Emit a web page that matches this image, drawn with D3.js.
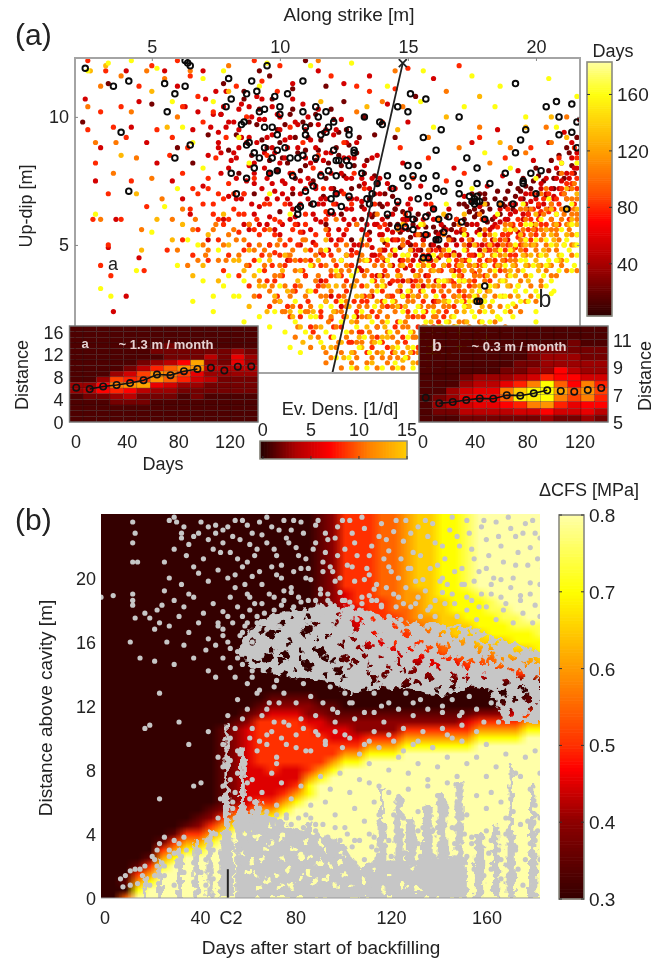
<!DOCTYPE html>
<html>
<head>
<meta charset="utf-8">
<title>Backfilling seismicity</title>
<script src="https://d3js.org/d3.v7.min.js"></script>
<style>
body { margin: 0; background: #fff; }
svg { display: block; font-family: 'Liberation Sans', Arial, sans-serif; filter: blur(0.45px); }
text { fill: #222; }
</style>
</head>
<body>
<script>
// (a) events, flat x,y pairs in tenths of a metre, one list per age class
var day25 = [88,98,92,103,95,88,99,95,101,84,104,101,106,92,108,79,110,87,112,97,114,83,116,91,118,76,120,103,122,88,124,81,126,95,128,72,130,86,133,78,135,68,138,74,140,65,142,61,144,69,146,58,148,63,150,56,153,60,155,54,158,62,160,57,163,55,165,61,168,58,170,66,172,60,175,67,177,62,180,70,182,64,185,71,187,66,190,74,192,69,195,76,198,72,200,80,203,75,206,83,209,78,212,88,214,81,216,92,92,118,110,122,78,113,86,110,96,116,105,111,118,112,125,106,133,100,137,93,50,105,60,88,66,82,72,93,80,87,84,78,90,70,100,63,105,70,112,66,118,58,124,62,128,52,135,55,141,51,147,49,155,48,132,60,137,62,145,64,151,53,161,52,167,56,174,63,181,59,188,68,194,71,201,70,207,76,23,98,33,113,145,92,153,108,
77,101,83,93,86,107,89,85,91,97,93,91,96,83,97,107,99,79,100,90,102,97,103,82,105,103,106,76,107,86,109,98,110,81,111,92,113,75,114,101,115,87,117,94,117,69,119,82,121,99,121,72,123,85,123,94,125,77,127,89,127,68,129,81,131,73,131,92,132,65,134,83,136,61,137,77,139,66,141,70,143,58,145,64,147,55,149,60,151,50,152,58,154,62,156,52,157,57,159,50,161,55,162,49,164,57,166,53,168,52,169,60,171,55,173,58,174,50,176,61,178,56,179,63,181,66,183,60,184,68,186,62,188,65,189,71,191,64,193,72,195,68,196,73,197,64,199,75,201,77,204,69,205,79,207,72,209,85,211,76,213,86,215,78,173,65,172,66,176,64,178,70,175,70,179,66,174,63,180,68];
var day55 = [70,118,75,110,68,102,73,96,78,104,82,98,85,105,88,92,91,108,94,99,97,104,100,95,103,88,106,98,109,105,112,91,115,97,118,86,121,93,124,99,127,84,130,90,133,81,136,76,139,70,142,66,145,72,148,60,151,64,154,57,157,66,160,60,163,58,166,64,169,55,172,69,175,58,178,65,181,73,184,61,187,77,190,66,193,79,196,70,199,83,202,72,205,90,208,80,211,94,214,84,217,99,72,85,76,90,80,80,84,88,87,75,90,82,93,72,96,78,99,68,102,74,105,64,108,70,111,76,114,60,117,66,120,72,123,56,126,64,129,60,132,67,135,52,138,58,141,48,144,55,147,44,150,51,153,46,156,42,159,48,162,45,165,50,168,47,171,52,174,50,177,55,180,54,183,57,186,59,189,60,192,63,195,62,198,67,201,65,204,70,207,69,210,75,213,72,216,80,85,68,90,62,95,58,100,54,104,60,108,50,112,56,116,47,120,52,124,44,128,48,132,40,136,46,140,38,144,42,148,36,152,40,156,34,60,112,55,118,45,106,40,118,30,88,28,75,42,96,48,90,52,82,58,75,62,68,66,95,36,60,33,49,45,45,35,24,40,30,24,107,63,104,105,113,115,118,125,113,135,116,142,105,160,115,175,90,185,95,150,98,138,85,148,82,155,73,168,80,160,28,120,30,110,38,103,44,96,50,88,56,78,60,72,52,143,72,151,68,114,73,126,76,97,88,83,84,77,101,65,62,70,73,128,42,116,36,124,26,136,30,130,22,138,18,
71,107,74,101,76,94,77,86,79,110,80,98,81,83,83,76,84,103,85,92,86,70,88,81,89,100,90,74,91,90,92,65,93,107,94,86,95,76,96,61,97,93,98,71,99,101,100,82,101,58,102,91,103,68,104,78,105,107,106,61,107,88,108,75,109,55,110,95,111,68,112,82,113,51,114,72,115,103,116,59,117,83,118,68,119,48,120,78,121,62,122,95,123,52,124,71,125,84,126,46,127,58,128,76,129,50,130,68,131,41,132,56,133,74,134,44,135,62,136,49,137,70,138,38,139,54,140,60,141,44,142,56,143,35,144,62,145,46,146,52,147,32,148,56,149,41,150,60,151,36,152,48,153,54,154,30,155,44,156,52,157,38,158,54,159,44,160,50,161,36,162,54,163,48,164,42,165,56,166,46,167,52,168,40,169,50,170,46,171,56,172,44,173,54,174,42,175,52,176,46,177,58,178,48,179,50,180,60,181,48,182,56,183,52,184,58,185,50,186,64,187,54,188,60,189,52,190,62,191,57,192,66,193,55,194,68,195,60,196,66,197,62,198,70,199,58,200,68,201,62,202,74,203,66,204,76,205,64,206,72,207,68,208,76,209,72,210,82,211,70,212,78,213,76,214,90,215,80,216,86,
76,88,79,96,82,86,84,95,87,90,88,104,90,78,92,99,94,80,95,92,97,74,98,86,100,100,101,75,102,84,104,92,105,72,107,97,108,66,110,84,111,100,112,74,114,88,115,66,116,78,118,95,119,62,120,86,122,70,124,78,125,60,126,90,128,68,129,84,130,58,132,76,133,64,135,72,136,84,137,58,139,76,140,54,142,74,144,52,146,66,148,50,150,66,152,44,154,48,156,60,158,46,160,64,77,78,80,69,83,68,86,58,89,66,92,58,95,68,98,56,101,70,104,66,107,58,110,72,113,62,116,68,119,56,122,66,125,54,128,64,131,50,134,58,137,46,140,48];
var day80 = [30,102,25,95,35,96,40,92,28,82,33,70,38,60,42,75,48,65,52,95,57,85,62,78,66,72,70,66,74,62,78,58,82,64,86,70,90,76,94,66,98,60,102,66,106,58,110,62,114,54,118,60,122,50,126,56,130,47,134,54,138,44,142,50,146,40,150,46,154,38,158,44,162,36,166,42,170,40,174,46,178,44,182,48,186,52,190,55,194,58,198,60,202,63,206,66,210,70,214,74,216,84,72,76,76,70,80,74,84,62,88,58,92,54,96,50,100,46,104,52,108,44,112,48,116,42,120,46,124,38,128,42,132,34,136,38,140,32,144,36,148,30,152,34,156,28,160,32,164,30,168,35,172,36,176,39,180,42,184,44,188,48,192,49,196,52,200,56,204,58,208,62,212,68,216,76,86,48,90,44,94,40,98,36,102,42,106,34,110,38,114,32,118,36,122,28,126,32,130,24,134,28,138,22,142,26,146,20,150,24,154,18,68,108,74,102,79,92,83,112,87,100,93,114,99,110,104,96,109,90,113,80,117,72,121,66,125,70,129,78,133,72,137,66,141,58,145,52,149,58,153,50,157,54,161,48,165,46,169,44,173,48,177,50,181,50,185,57,189,54,193,53,197,56,201,60,205,63,209,66,213,64,135,110,140,98,147,88,152,76,158,84,165,75,172,78,178,92,188,84,198,88,45,112,50,120,38,104,60,122,32,118,65,116,90,122,100,120,120,116,130,112,150,119,145,111,170,120,25,122,27,60,30,42,34,38,33,50,47,40,56,48,62,52,66,46,72,44,76,52,80,46,84,38,88,34,92,30,96,26,100,28,104,22,108,26,112,18,116,24,120,14,124,18,128,12,132,16,136,10,140,12,144,8,148,14,152,8,156,12,160,18,164,22,168,26,172,30,95,85,105,78,115,85,125,90,75,84,128,66,118,63,108,55,98,47,88,42,78,40,68,56,139,57,149,62,159,66,169,60,179,60,189,64,199,70,209,84,215,88,120,21,132,28,144,30,156,22,168,18,178,28,
91,60,93,46,94,56,95,36,96,66,97,42,98,54,99,30,100,59,101,38,102,50,103,26,104,44,105,56,106,32,107,50,108,22,109,40,110,58,111,28,112,44,113,16,114,50,115,34,116,22,117,46,118,28,119,54,120,38,121,18,122,42,123,30,124,52,125,22,126,36,127,12,128,46,129,28,130,40,131,16,132,50,133,30,134,8,135,44,136,24,137,36,138,14,139,46,140,28,141,40,142,10,143,30,144,48,145,18,146,36,147,26,148,44,149,12,150,30,151,42,152,22,153,36,154,10,155,32,156,46,157,24,158,38,159,14,160,42,161,28,162,20,163,40,164,34,165,24,166,44,167,36,168,30,169,42,170,32,171,38,172,28,173,44,174,34,175,46,176,36,177,42,178,32,179,46,180,38,181,44,182,36,183,50,184,42,185,48,186,40,187,54,188,44,189,50,190,46,191,58,192,46,193,60,194,50,195,54,196,48,197,62,198,52,199,64,200,54,201,66,202,58,203,68,204,56,205,70,206,60,207,64,208,68,209,58,210,72,211,64,212,74,213,60,214,78,215,66,216,72,72,72,74,66,76,60,78,68,80,60,82,70,84,55,86,62,88,50,90,56,65,64,68,70,64,88,58,92,70,98,62,104];
var day105 = [48,118,42,102,25,104,36,90,44,84,50,76,54,68,58,60,62,64,66,56,70,50,74,56,78,50,82,56,86,52,90,48,94,42,98,38,102,34,106,40,110,30,114,36,118,30,122,24,126,28,130,20,134,26,138,18,142,22,146,16,150,18,154,22,158,26,162,28,166,32,170,34,174,36,178,38,182,40,186,42,190,44,194,48,198,50,202,52,206,56,210,60,214,62,216,68,92,36,96,32,100,38,104,30,108,34,112,26,116,30,120,22,124,24,128,16,132,22,136,14,140,20,144,14,148,18,152,14,156,18,160,22,164,26,168,30,172,32,176,34,180,36,184,38,188,40,192,42,196,46,200,48,204,50,208,54,212,58,216,62,110,52,114,46,118,42,122,38,126,42,130,36,134,40,138,34,142,38,146,32,150,36,154,30,158,36,162,40,166,36,170,38,174,42,178,40,182,44,186,46,190,50,194,52,198,54,202,56,206,60,210,64,214,68,104,46,100,52,96,56,92,50,88,58,84,46,80,54,76,44,72,48,68,44,64,42,60,48,135,30,140,26,145,24,150,28,155,26,160,26,165,28,125,34,120,40,115,38,110,44,105,48,123,48,131,44,139,48,147,42,155,40,163,46,171,44,179,46,187,50,195,56,203,62,211,70,215,74,140,45,148,52,156,50,164,54,172,56,180,56,188,58,196,64,204,72,35,78,28,90,30,112,38,116,60,100,46,56,30,60,55,115,65,118,80,120,115,122,140,106,130,102,145,118,165,110,178,96,190,88,148,104,158,92,170,88,182,82,196,86,206,90,212,100,204,96,106,14,112,10,118,8,124,8,130,6,136,6,142,4,148,8,154,8,160,12,166,14,172,20,178,24,184,30,190,34,196,38,202,42,208,48,214,54,
96,46,98,28,99,50,101,24,103,46,105,26,107,18,109,52,111,24,113,42,115,14,117,34,119,20,121,44,123,12,125,30,127,40,129,8,131,26,133,38,135,16,137,42,139,24,141,34,143,6,145,28,147,38,149,20,151,32,153,14,155,36,157,18,159,40,161,22,163,32,165,16,167,40,169,24,171,36,173,26,175,40,177,30,179,42,181,32,183,46,185,34,187,44,189,38,191,48,193,40,195,50,197,42,199,56,201,46,203,54,205,48,207,58,209,52,211,62,213,56,215,64,120,32,124,40,128,34,132,46,136,32,140,42,144,26,148,50,152,28,156,42,160,34,164,48,168,34,172,50,176,38,180,52,184,48,188,52,192,44,196,60,200,50,204,64,208,56,212,68,216,60,118,56,122,60,126,50,130,58,134,50,138,62,142,44,146,56,150,44,154,54,158,48,162,60,166,52,170,58,174,52,178,62,182,54,186,66,190,58,194,64,198,64,202,70,206,66,210,78,214,72,102,24,106,44,110,24,114,18,116,48,122,18,126,26,130,12,134,22,138,8,142,30,146,6,150,22,154,38,158,10,162,24,166,26,170,20,174,30,178,20,182,26,186,26,190,30,194,36,198,34,202,36,206,42,210,44,214,50,216,54,
118,4,120,6,122,10,124,2,126,14,128,4,130,2,132,12,134,4,136,12,138,2,140,6,142,16,144,2,146,12,148,2,150,6,152,16,154,4,156,14,158,2,160,16,162,8,164,2,166,8,168,12,170,14,172,10,174,18,176,12,178,14,180,18,182,12,184,20,186,16,188,18,190,24,192,26,194,24,196,28,198,30,200,28,202,34,204,40,206,38,208,38,210,42,212,40,214,46,216,40,105,32,100,42,97,34,94,48,90,30,87,42,83,52,79,44,75,58,71,46,67,60];
var day130 = [100,28,104,24,108,18,112,14,116,18,120,10,124,12,128,8,132,10,136,4,140,8,144,10,148,5,152,4,156,6,160,8,164,12,168,18,172,24,176,28,180,30,184,34,188,36,192,38,196,42,200,44,204,46,208,50,212,54,216,58,78,62,82,44,86,40,90,38,94,34,98,30,102,46,70,42,66,38,62,58,58,52,52,60,46,48,132,30,140,36,148,42,156,44,164,42,172,40,180,48,188,46,196,50,204,56,212,64,216,70,118,28,126,22,134,18,142,14,150,10,158,14,166,20,174,26,182,32,190,40,198,46,206,54,214,60,56,96,50,110,38,85,44,70,32,120,26,118,80,110,116,106,134,104,146,95,165,100,178,108,186,90,196,96,206,100,212,92,122,34,130,30,138,28,146,26,154,34,162,34,170,30,178,34,186,36,193,34,201,40,209,44,108,40,96,44,88,48,143,46,151,48,160,40,168,46,176,50,184,52,192,56,200,58,208,58,
101,40,103,32,105,22,107,36,109,12,111,32,113,24,115,44,117,10,119,34,121,24,123,38,125,6,127,26,129,34,131,14,133,44,135,22,137,12,139,38,141,18,143,42,145,8,147,34,149,26,151,8,153,38,155,14,157,30,159,20,161,44,163,18,165,36,167,22,169,28,171,42,173,20,175,32,177,16,179,26,181,38,183,24,185,42,187,30,189,34,191,42,193,30,195,46,197,36,199,50,201,42,203,48,205,42,207,52,209,46,211,50,213,58,215,50,216,64,128,20,134,34,140,14,146,38,152,30,158,34,164,28,170,42,176,42,182,50,188,56,194,54,200,62,206,64,212,72,95,24,92,34,88,26,84,44,80,50,76,36,72,54,110,48,118,52,126,46,132,52,140,52,148,58,156,58,164,62,172,62,180,66];
var day160 = [25,118,33,121,42,122,52,119,58,106,62,96,66,90,70,80,60,72,55,65,50,55,44,40,34,30,28,62,30,33,60,42,74,30,84,30,92,22,96,18,102,16,106,20,112,22,116,12,122,6,128,2,134,2,140,2,146,2,152,2,158,4,164,6,170,10,176,14,182,20,188,24,194,28,200,32,206,36,212,44,216,50,150,14,156,16,162,18,168,22,174,28,180,28,186,30,192,32,198,38,204,42,210,46,216,54,196,44,190,38,184,40,178,32,172,36,166,28,160,24,154,26,148,24,142,20,136,20,130,18,124,20,118,16,112,32,106,28,100,34,92,44,86,36,80,38,76,48,68,50,64,52,204,52,198,58,192,50,186,48,180,42,174,44,168,38,162,36,156,32,150,32,144,28,138,32,132,24,126,16,120,26,114,22,108,24,210,56,214,66,208,62,202,60,196,58,190,48,184,46,178,54,172,48,166,44,160,46,154,42,148,46,142,44,136,36,130,40,124,44,118,48,112,42,104,62,96,70,88,82,84,92,92,112,78,118,74,106,70,115,95,121,112,120,128,121,142,112,155,106,160,96,172,104,184,104,196,100,208,96,216,108,205,115,186,112,175,116,156,118,180,86,190,80,200,76,210,82,216,82,205,68,195,66,185,62,175,72,165,66,155,58,145,48,186,21,206,31,200,24,170,16,176,22,214,40,146,10,152,10,158,8,164,16,200,20,191,27,
121,14,124,28,127,6,129,22,131,10,133,14,135,8,137,26,139,12,141,28,143,16,145,4,147,20,149,6,151,16,153,24,155,6,157,20,159,10,161,30,163,10,165,20,167,12,169,18,171,28,173,14,175,24,177,10,179,20,181,14,183,28,185,22,187,36,189,26,191,22,193,34,195,40,197,28,199,42,201,30,203,38,205,44,207,32,209,40,211,50,213,48,215,42,216,46,170,36,176,30,182,34,188,42,194,44,200,52,206,50,212,52,166,48,172,54,178,46,184,54,190,56,196,52,202,46,208,44,214,58,140,34,148,30,156,24,164,36,172,26,180,24,188,30,196,32,204,34,110,16,116,26,122,40,128,38,134,44,142,52,150,46,158,42,86,20,82,30,78,34,74,24,70,36,66,28,92,40,98,24,104,10,108,8];
// thicker events, same units
var strongEvents = [24,119,63,122,64,121,65,120,95,120,80,115,109,114,41,114,35,112,55,113,63,112,59,109,87,109,91,110,89,114,98,108,103,109,81,107,79,104,56,102,92,102,94,103,100,104,100,101,109,102,114,104,118,102,115,100,86,98,85,97,94,96,97,96,110,96,121,98,119,96,38,94,99,93,116,93,118,94,110,93,88,90,87,89,65,89,94,88,99,87,102,88,90,86,92,84,97,84,104,84,107,84,109,85,114,84,122,83,59,84,90,80,81,78,87,76,96,78,99,79,105,77,116,77,119,79,122,77,41,71,110,71,113,73,122,70,83,70,120,68,113,66,107,64,108,65,107,62,120,63,151,109,157,107,146,104,150,102,133,100,139,98,140,97,170,100,163,95,156,92,127,95,127,93,129,87,129,86,121,87,161,87,173,84,150,81,154,81,123,83,126,83,127,81,132,78,177,80,142,77,148,76,152,77,156,76,161,77,188,78,192,113,204,104,208,106,214,105,209,100,216,98,196,95,209,93,214,94,194,91,192,86,216,88,198,78,202,79,195,75,195,74,200,70,212,64,191,66,186,66,170,74,177,74,182,74,161,72,164,71,170,70,158,69,154,68,150,73,144,72,138,74,176,68,177,69,175,67,178,67,176,66,174,69,177,67,180,60,166,61,171,59,164,55,162,60,157,61,150,62,152,60,160,64,146,67,136,70,134,68,135,66,127,69,124,65,142,62,146,57,162,52,157,54,152,56,149,57,156,45,158,45,177,28,178,28,180,34,161,52];
var eventBins = [25,55,80,105,130,160];
var eventLists = [day25,day55,day80,day105,day130,day160];
var faultX = [14.8,12.05];
var faultY = [12.1,0];

// insets, rows from top to bottom, one character per 10-day cell, base 36 events/day
var insetARows = ["11111111111111","11111111111111","11111111111111","11111112111111","11111122222232","11111112224263","111112347d3263","1111248acc4444","111359cb963333","113989ca854222","337bcd65332222","34787433222222","12234222121111","11122211111111","11111111111111","11111111111111","11111111111111"];
var insetBRows = ["11111111111111","11111111111111","11111111111211","11111111222222","11111111233322","11111112233333","11111122337433","11123334587755","11134468bia7b8","113566bfiidac9","123677ahhib9b8","13456678bc8677","12244445575564","11122222232232"];
var insetDays = [0,10,20,30,40,50,60,70,80,90,100,110,120,130];
var frontA = [6.07,5.84,6.3,6.55,6.9,7.4,8.4,8.3,9.0,9.4,9.6,9.1,9.8,9.85];
var frontB = [6.77,6.36,6.46,6.6,6.72,6.7,6.95,6.92,7.09,7.31,7.26,7.21,7.33,7.48];
var insetTicksA = [0,4,8,12,16];
var insetTicksB = [5,7,9,11];
var insetDayTicks = [0,40,80,120];

// (b) stress change, rows from 24 m down to 0 m every 0.5 m, columns every 5 days, hex steps of 0.05 MPa above 0.3
var cfsRows = [
"00000 00000 00000 00012 44455 67788 9aaaa aa","00000 00000 00000 00012 44455 67788 9aaaa aa","00000 00000 00000 00012 44455 67788 9aaaa aa","00000 00000 00000 00012 44455 67788 9aaaa aa",
"00000 00000 00000 00012 44455 67788 9aaaa aa","00000 00000 00000 00012 44455 67788 9aaaa aa","00000 00000 00000 00012 44455 67788 9aaaa aa","00000 00000 00000 00012 44455 67788 9aaaa aa",
"00000 00000 00000 00012 44455 67788 9aaaa aa","00000 00000 00000 00012 44455 67788 9aaaa aa",
"00000 00000 00000 00012 34455 66788 89aaa aa","00000 00000 00000 00012 34445 66778 889aa aa","00000 00000 00000 00011 33445 56778 8899a aa","00000 00000 00000 00011 33444 56677 88899 aa",
"00000 00000 00000 00011 23344 55677 78889 99","00000 00000 00000 00001 22344 45567 77888 89","00000 00000 00000 00001 12334 44556 67778 88","00000 00000 00000 00001 12233 34455 66677 78",
"00000 00000 00000 00000 11222 33344 55566 67","00000 00000 00000 00000 11122 22333 44555 66","00000 00000 00000 00000 01111 12222 33334 45","00000 00000 00000 00000 00011 11111 11111 11",
"00000 00000 00000 00000 00000 00000 00000 01","00000 00000 00001 11100 00000 00000 00000 11","00000 00000 00012 22211 00000 00000 00011 12","00000 00000 00123 33221 11111 11111 12223 44",
"00000 00000 01244 44332 22222 22222 34444 66","00000 00000 12344 44433 32222 44444 46666 88","00000 00000 12344 44443 33444 66666 68888 aa","00000 00000 12344 44444 44666 88888 8aaaa aa",
"00000 00000 12344 44444 66888 aaaaa aaaaa aa","00000 00000 12344 44446 88aaa aaaaa aaaaa aa","00000 00000 12334 33468 aaaaa aaaaa aaaaa aa","00000 00000 12333 3368a aaaaa aaaaa aaaaa aa",
"00000 00000 12333 348aa aaaaa aaaaa aaaaa aa","00000 00000 12333 468aa aaaaa aaaaa aaaaa aa","00000 00000 12344 68aaa aaaaa aaaaa aaaaa aa","00000 00001 24466 8aaaa aaaaa aaaaa aaaaa aa",
"00000 00012 46688 aaaaa aaaaa aaaaa aaaaa aa","00000 00124 688aa aaaaa aaaaa aaaaa aaaaa aa","00000 01446 8aaaa aaaaa aaaaa aaaaa aaaaa aa","00000 14668 aaaaa aaaaa aaaaa aaaaa aaaaa aa",
"00000 4688a aaaaa aaaaa aaaaa aaaaa aaaaa aa","00001 68aaa aaaaa aaaaa aaaaa aaaaa aaaaa aa","00014 8aaaa aaaaa aaaaa aaaaa aaaaa aaaaa aa","00046 aaaaa aaaaa aaaaa aaaaa aaaaa aaaaa aa",
"00168 aaaaa aaaaa aaaaa aaaaa aaaaa aaaaa aa","0008a aaaaa aaaaa aaaaa aaaaa aaaaa aaaaa aa","005aa aaaaa aaaaa aaaaa aaaaa aaaaa aaaaa aa"];

// (b) single events, flat day, tenths of a metre
var cavityEvents = [
0,188,5,189,13,235,14,228,13,222,13,210,15,210,13,190,13,186,13,183,14,175,12,160,18,178,20,175,22,168,24,172,23,180,25,183,16,150,22,148,28,236,31,235,34,232,38,226,33,225,40,228,44,232,47,233,50,230,55,236,60,233,62,228,65,235,70,232,75,236,78,230,82,235,88,233,92,228,97,232,102,236,108,231,115,234,120,229,125,236,130,232,136,234,143,230,150,236,156,232,162,235,168,231,174,234,178,228,
30,218,35,214,26,210,38,207,42,212,46,218,50,222,53,216,57,224,60,210,64,218,68,222,72,214,76,225,80,219,84,212,88,222,92,216,96,225,100,218,104,222,110,214,114,226,118,217,124,223,128,216,134,226,140,220,146,226,152,218,158,224,164,220,170,226,176,219,180,225,
28,200,33,196,26,192,36,190,40,203,44,198,48,205,52,200,55,194,58,207,62,201,66,196,70,207,74,200,78,194,82,206,86,199,90,193,94,207,98,200,103,207,108,199,112,193,118,207,122,200,127,206,132,199,138,208,142,196,148,206,153,198,158,206,164,199,170,208,176,197,181,206,
30,186,34,182,38,188,42,178,46,184,50,179,53,188,56,182,60,190,63,184,67,178,71,188,74,183,78,191,82,185,86,180,90,190,94,184,98,191,102,185,106,180,110,189,115,183,120,190,124,184,130,188,135,182,140,191,145,184,150,188,155,182,160,190,166,184,172,189,178,183,
28,170,32,176,36,166,40,172,44,162,48,170,52,176,27,160,34,158,38,150,30,146,43,155,47,158,50,164,53,156,56,150,58,166,60,172,62,160,64,176,66,152,68,168,
44,142,47,138,50,150,53,144,55,138,58,146,60,134,62,142,24,128,56,124,58,112,60,118,62,106,64,128,65,98,68,118,70,104,71,132,72,88,73,122,
32,110,36,96,44,104,48,88,18,106,41,72,20,108,24,62,38,70,52,84,
24,34,26,38,22,24,28,30,30,36,28,26,34,38,35,30,32,34,26,20,18,20,16,18,14,18,12,17,10,14,8,12,9,7,12,8,15,9,17,14,21,26,23,30,
62,74,66,66,70,78,74,72,78,62,82,70,86,58,90,76,94,68,98,78,102,66,106,74,110,84,114,70,118,80,122,88,126,78,130,84,134,74,138,82,142,88,146,76,150,84,154,88,158,76,162,82,166,90,170,78,174,88,178,92,
64,92,68,96,72,84,76,96,80,102,84,92,88,104,92,98,96,110,100,102,104,112,108,96,112,104,116,110,120,98,124,106,128,96,132,104,136,94,140,106,144,100,148,108,
52,114,55,106,56,92,61,100,75,110,82,112,88,114,95,118,102,122,112,116,118,122,128,122,140,120,148,116,
110,72,112,60,114,52,118,66,122,62,126,68,130,54,134,70,138,64,142,72,146,60,150,52,154,64,158,56,160,66,164,60,172,76,176,68,180,78,108,48,104,56,100,44,96,52,92,60,88,46,84,52,80,42,76,50,72,58,
100,28,104,36,108,24,112,38,130,34,132,44,152,38,156,30,158,42,160,36,164,24,166,40,170,32,172,46,174,24,178,36,180,50,
30,238,33,228,36,221,41,235,44,224,47,228,49,216,52,232,54,226,56,212,58,236,61,221,63,214,66,227,68,238,71,218,73,230,74,208,77,222,79,236,81,214,83,228,85,206,87,218,89,236,91,210,93,224,95,204,97,214,99,236,101,208,103,228,105,214,107,238,109,206,111,220,113,196,116,212,117,224,119,204,121,236,123,212,126,206,127,228,129,198,131,214,133,236,135,206,137,222,139,198,141,212,144,238,145,204,147,220,149,196,151,228,153,212,155,204,157,236,159,214,161,200,163,226,165,210,167,238,169,200,171,216,173,228,175,208,177,236,179,212,
55,202,59,196,61,188,65,204,69,190,72,202,75,192,79,204,81,188,84,200,88,186,91,204,93,190,96,198,100,186,104,198,107,188,110,202,113,186,117,194,122,188,125,194,129,184,133,192,137,186,140,200,144,190,148,196,152,186,156,190,160,196,164,188,168,194,172,186,176,190,180,196,
58,176,61,180,64,172,66,184,69,174,71,180,73,170,75,186,77,176,79,182,81,172,83,178,85,186,87,174,89,182,91,176,93,186,95,174,97,180,99,186,101,176,103,182,105,174,107,184,109,178,111,186,113,176,115,182,118,176,121,182,123,174,127,182,131,176,134,180,137,176,141,184,146,176,150,180,154,174,158,182,162,174,165,180,169,172,173,178,177,172,180,176,
48,172,50,168,52,160,54,172,56,154,57,164,59,170,61,150,62,166,
62,138,65,130,67,144,69,122,72,136,75,128,78,140,80,122,83,134,86,126,88,138,91,122,94,132,97,116,100,128,103,122,106,134,108,116,112,128,115,120,118,132,122,118,125,128,128,114,131,124,134,118,136,128,140,116,144,124,147,114,151,126,154,118,157,110,160,122,163,110,
66,114,68,102,71,110,74,100,77,108,80,94,83,106,86,92,89,102,92,96,96,104,99,94,102,100,106,90,110,98,114,94,118,102,124,92,130,98,136,94,142,102,148,98,154,104,158,96,
50,96,53,100,50,82,53,86,50,70,53,74,49,62,54,60,48,50,55,50,47,40,56,42,46,30,57,30,45,20,58,22,57,90,59,84,56,78,60,72,55,66,61,62,54,56,62,54,
63,60,65,56,62,48,66,46,61,36,67,40,68,54,72,52,69,42,74,44,76,52,78,46,81,50,83,44,86,50,88,42,91,46,93,38,96,44,98,36,101,40,103,32,106,36,
20,8,22,14,23,20,25,22,26,14,24,6,30,8,31,20,33,26,34,16,30,28,38,10,38,22,40,30,41,16,43,8,43,24,45,34,46,12,40,4,
110,8,110,40,111,32,113,30,116,44,118,36,119,26,120,52,121,42,124,50,123,34,125,28,126,40,128,30,130,42,131,26,133,48,135,38,136,26,138,44,139,34,141,52,142,28,144,44,145,34,146,58,148,50,149,40,150,26,152,34,153,18,156,32,154,24,157,14,159,28,160,18,161,38,163,30,164,12,166,50,167,42,168,62,169,54,170,30,171,18,173,8,175,48,176,34,178,58,179,42,180,24,72,30,76,26,80,36,84,20,88,28,92,16,96,24,100,12,104,22,108,6];

// (b) dense swarms: columns from the cavity up and filled patches, cut open by the gaps
var columnDay = [18,24,32,39,44.5,51.5,51.5,51.5,58,58,64,70,85,96,115,115,122,127,134,140,147,155,162,168,168,177,177];
var columnTop = [1.2,2.2,3,3.4,4.1,10.8,6.5,3.5,9.4,5.2,6,5,4.5,3.4,6.8,4.6,6.2,4.7,5.5,6.2,7,3.8,4.5,8.2,3.8,7,2.8];
var columnSpread = [1.6,2,2.4,2.4,2.6,1.8,3,6,2,5,3.4,3,3,3,1.2,4,3.4,4,4,4,3.4,3.4,2.6,1.8,3.4,2.2,3.8];
var patchUpperDay = [56,60,66,72,80,90,100,112,130,150,164,180,180,165,160,150,140,128,115,103,92,80,70,62];
var patchUpperDist = [15.5,16.6,17.4,17.8,18,18.3,18.2,17.8,17.2,17,16.2,15.4,11,11,13,13.2,12.6,13,13.2,12.8,13.6,13.8,14,14.4];
var patchLowerDay = [55,55,70,78,90,100,106,112,130,133,150,150,106,55];
var patchLowerDist = [0,5.2,5.2,4.4,4,3.2,1.8,2.4,2.4,2.6,2.6,0,0,0];
var swarmGaps = [62,160,66,168,70,155,74,172,77,160,82,150,85,176,88,162,92,150,96,172,98,158,102,145,105,168,108,152,112,175,115,160,118,145,120,170,123,152,126,164,128,142,132,172,134,156,136,146,140,166,142,150,145,140,148,160,152,148,155,168,157,138,160,156,163,145,166,135,168,150,170,125,172,142,174,130,176,118,178,138,180,122,165,122,172,132,176,148,
74,148,80,142,86,145,92,140,100,138,104,148,110,140,114,150,124,142,130,135,138,130,144,132,150,138,152,132,158,128,162,118,168,116,174,114,
70,45,74,38,80,44,84,34,88,42,92,30,75,25,82,26,90,22,68,30,64,38,62,22,72,15,78,8,85,16,92,12,98,22,102,8,100,15,68,10,60,16,65,6,
118,14,124,8,128,18,116,5,130,6,108,12,112,18,
64,174,68,176,73,166,78,176,83,165,88,172,93,164,98,178,103,162,107,174,113,166,117,176,121,158,125,172,130,160,134,168,138,158,143,170,147,150,151,166,155,155,159,148,162,160,165,150,168,142,171,155,174,146,177,158,179,148,
64,148,69,142,75,140,82,155,88,155,95,148,99,158,106,156,110,146,116,140,122,148,127,155,132,150,138,145,142,158,146,148,154,158,156,148,
58,28,60,40,63,14,66,24,70,35,74,8,77,18,79,30,82,12,86,26,88,10,90,35,94,20,96,8,99,28];
var swarmGapsWide = [68,150,76,152,90,154,100,150,110,158,120,156,130,148,140,155,150,145,160,150,165,128,175,125,172,140,145,136,135,138,125,134,112,136,97,142,84,146,70,165,85,168,105,172,125,165,145,165,158,162];

var cfsBarTicks = [0.3,0.4,0.5,0.6,0.7,0.8];
var dayBarTicks = [40,80,120,160];
var densityTicks = [0,5,10,15];
var strikeTicks = [5,10,15,20];
var updipTicks = [5,10];
var distTicks = [0,4,8,12,16,20];
var backfillTicks = [0,40,80,120,160];

var W = 671, H = 962;
var svg = d3.select("body").append("svg").attr("width", W).attr("height", H);
var defs = svg.append("defs");

var hotCfs = d3.scaleLinear().domain([0.3,0.4,0.47,0.5,0.6,0.7,0.8])
  .range(["#340000","#8c0000","#ff0000","#ff3000","#ff9a00","#ffff00","#ffffa8"]).clamp(true);
var hotDays = d3.scaleLinear().domain([3,40,70,90,120,160,183])
  .range(["#2c0000","#a80000","#ff0000","#ff5000","#ffa000","#ffff10","#ffffa0"]).clamp(true);
var hotDens = d3.scaleLinear().domain([0,1,3.5,7,11,15,18])
  .range(["#2c0000","#4e0000","#b00000","#ff0000","#ff8000","#ffcc00","#ffff00"]).clamp(true);

function label(x, y, str, size, anchor, rot) {
  var t = svg.append("text").attr("font-size", size).attr("text-anchor", anchor || "middle").text(str);
  if (rot) t.attr("transform", "translate(" + x + "," + y + ") rotate(" + rot + ")");
  else t.attr("x", x).attr("y", y);
  return t;
}
function pairs(list) {
  var out = [];
  for (var i = 0; i < list.length; i += 2) out.push([list[i] / 10, list[i + 1] / 10]);
  return out;
}
function clip(id, x0, y0, w, h) {
  defs.append("clipPath").attr("id", id).append("rect").attr("x", x0).attr("y", y0).attr("width", w).attr("height", h);
}

// ---- panel a ----
var x = d3.scaleLinear().domain([2, 21.7]).range([75, 579.5]);
var y = d3.scaleLinear().domain([0, 12.3]).range([373, 58]);
clip("clipA", 75, 58, 505, 315);

var gPts = svg.append("g").attr("clip-path", "url(#clipA)");
eventLists.forEach(function (list, i) {
  gPts.append("g").selectAll("circle").data(pairs(list)).enter().append("circle")
    .attr("cx", function (d) { return x(d[0]); })
    .attr("cy", function (d) { return y(d[1]); })
    .attr("r", 2.6)
    .attr("fill", hotDays(eventBins[i]));
});
gPts.append("g").selectAll("circle").data(pairs(strongEvents)).enter().append("circle")
  .attr("cx", function (d) { return x(d[0]); })
  .attr("cy", function (d) { return y(d[1]); })
  .attr("r", 2.8).attr("fill", "none").attr("stroke", "#0a0a0a").attr("stroke-width", 1.9);

var line = d3.line().x(function (d) { return x(d); }).y(function (d, i) { return y(faultY[i]); });
svg.append("path").attr("d", line(faultX)).attr("stroke", "#222").attr("stroke-width", 1.8).attr("fill", "none");
var fx = x(faultX[0]), fy = y(faultY[0]);
svg.append("path").attr("d", "M" + (fx - 4) + "," + (fy - 4) + "L" + (fx + 4) + "," + (fy + 4) + "M" + (fx - 4) + "," + (fy + 4) + "L" + (fx + 4) + "," + (fy - 4))
  .attr("stroke", "#222").attr("stroke-width", 1.8);

svg.append("rect").attr("x", 75).attr("y", 58).attr("width", 505).attr("height", 315)
  .attr("fill", "none").attr("stroke", "#a4a4a4").attr("stroke-width", 2);

function styleAxis(g) {
  g.select(".domain").remove();
  g.selectAll("line").attr("stroke", "#888");
  g.selectAll("text").attr("font-size", 18).attr("fill", "#222").attr("font-family", "'Liberation Sans', Arial, sans-serif");
}
svg.append("g").attr("transform", "translate(0,58)")
  .call(d3.axisTop(x).tickValues(strikeTicks).tickSize(-3).tickPadding(5)).call(styleAxis);
svg.append("g").attr("transform", "translate(75,0)")
  .call(d3.axisLeft(y).tickValues(updipTicks).tickSize(-3).tickPadding(6)).call(styleAxis);
svg.append("g").attr("transform", "translate(580,0)")
  .call(d3.axisRight(y).tickValues(updipTicks).tickSize(-3).tickFormat("")).call(styleAxis);

label(349, 21, "Along strike [m]", 19);
label(32, 206, "Up-dip [m]", 18, "middle", -90);
label(15, 45, "(a)", 30, "start");
label(15, 530, "(b)", 30, "start");
label(113, 270, "a", 18);
label(545, 307, "b", 23);

// vertical colour bar from a scale
function vBar(x0, x1, scale, color, ticks, fmt) {
  var d = scale.domain();
  var n = 120, steps = d3.range(n).map(function (i) { return d[0] + (d[1] - d[0]) * (i + 0.5) / n; });
  var h = Math.abs(scale(d[0]) - scale(d[1])) / n;
  svg.append("g").selectAll("rect").data(steps).enter().append("rect")
    .attr("x", x0).attr("width", x1 - x0)
    .attr("y", function (v) { return scale(v) - h / 2 - 0.3; })
    .attr("height", h + 0.6)
    .attr("fill", color);
  svg.append("rect").attr("x", x0).attr("y", scale(d[1])).attr("width", x1 - x0).attr("height", Math.abs(scale(d[0]) - scale(d[1])))
    .attr("fill", "none").attr("stroke", "#8a8a80").attr("stroke-width", 1.6);
  ticks.forEach(function (t) {
    svg.append("line").attr("x1", x0).attr("x2", x0 + 3).attr("y1", scale(t)).attr("y2", scale(t)).attr("stroke", "#333");
    svg.append("line").attr("x1", x1 - 3).attr("x2", x1).attr("y1", scale(t)).attr("y2", scale(t)).attr("stroke", "#333");
    label(x1 + 5, scale(t) + 7, fmt(t), 19, "start");
  });
}
var dayBar = d3.scaleLinear().domain([3, 183]).range([316, 62]);
vBar(587, 612, dayBar, hotDays, dayBarTicks, String);
label(613, 57, "Days", 18);

// ---- insets ----
function inset(x0, x1, yDomain, rows, front, ticks, side, lab, lx, ly, note, nx, ny, dayLabelRange) {
  var ix = d3.scaleBand().domain(insetDays).range([x0, x1]);
  var iy = d3.scaleLinear().domain(yDomain).range([422, 326]);
  var rh = 96 / rows.length;
  var g = svg.append("g");
  rows.forEach(function (row, r) {
    row.split("").forEach(function (c, j) {
      g.append("rect").attr("x", ix(insetDays[j])).attr("y", 326 + r * rh)
        .attr("width", ix.bandwidth()).attr("height", rh)
        .attr("fill", hotDens(parseInt(c, 36))).attr("stroke", "#000").attr("stroke-opacity", 0.3).attr("stroke-width", 0.6);
    });
  });
  svg.append("rect").attr("x", x0).attr("y", 326).attr("width", x1 - x0).attr("height", 96)
    .attr("fill", "none").attr("stroke", "#777").attr("stroke-width", 1.4);
  var cx = function (i) { return ix(insetDays[i]) + ix.bandwidth() / 2; };
  var fl = d3.line().x(function (d, i) { return cx(i + 1); }).y(function (d) { return iy(d); });
  svg.append("path").attr("d", fl(front.slice(1, 10))).attr("fill", "none").attr("stroke", "#111").attr("stroke-width", 1.6);
  svg.append("g").selectAll("circle").data(front).enter().append("circle")
    .attr("cx", function (d, i) { return cx(i); }).attr("cy", function (d) { return iy(d); })
    .attr("r", 3.2).attr("fill", "none").attr("stroke", "#111").attr("stroke-width", 1.6);
  ticks.forEach(function (t) {
    if (side == "left") label(x0 - 6, iy(t) + 7, t, 18, "end");
    else label(x1 + 5, iy(t) + 7, t, 18, "start");
  });
  var labelX = d3.scaleLinear().domain([0, 120]).range(dayLabelRange);
  insetDayTicks.forEach(function (t) { label(labelX(t), 448, t, 18); });
  label(lx, ly, lab, side == "left" ? 13 : 16, "middle").attr("font-weight", "bold").style("fill", "#e6d2d2");
  label(nx, ny, note, 13, "middle").attr("font-weight", "bold").style("fill", "#e6d2d2");
}
inset(69.5, 258, [0, 17], insetARows, frontA, insetTicksA, "left", "a", 85, 348, "~ 1.3 m / month", 166, 349, [76, 230]);
inset(419, 608, [5, 12], insetBRows, frontB, insetTicksB, "right", "b", 437, 351, "~ 0.3 m / month", 519, 351, [423, 580]);
label(28, 375, "Distance", 18, "middle", -90);
label(163, 470, "Days", 18);
label(651, 376, "Distance", 18, "middle", -90);

// density bar
var densBar = d3.scaleLinear().domain([-0.3, 15]).range([260, 407]);
var densSteps = d3.range(0, 100).map(function (i) { return -0.3 + 15.3 * (i + 0.5) / 100; });
svg.append("g").selectAll("rect").data(densSteps).enter().append("rect")
  .attr("x", function (v) { return densBar(v) - 1; }).attr("width", 2.2).attr("y", 441).attr("height", 18)
  .attr("fill", function (v) { return hotDens(v); });
svg.append("rect").attr("x", 260).attr("y", 441).attr("width", 147).attr("height", 18)
  .attr("fill", "none").attr("stroke", "#8a8a80").attr("stroke-width", 1.5);
densityTicks.forEach(function (t) {
  label(densBar(t), 436, t, 18);
  svg.append("line").attr("x1", densBar(t)).attr("x2", densBar(t)).attr("y1", 456).attr("y2", 459).attr("stroke", "#333");
});
label(340, 415, "Ev. Dens. [1/d]", 18);

// ---- panel b ----
var xb = d3.scaleLinear().domain([0, 180]).range([101, 540]);
var yb = d3.scaleLinear().domain([0, 24]).range([898, 514]);
clip("clipB", 101, 514, 439, 384);

var grid = cfsRows.map(function (r) { return r.replace(/ /g, "").split("").map(function (c) { return 0.3 + 0.05 * parseInt(c, 16); }); });
var cv = document.createElement("canvas");
cv.width = grid[0].length; cv.height = grid.length;
var ctx = cv.getContext("2d");
grid.forEach(function (row, r) {
  row.forEach(function (v, c) { ctx.fillStyle = hotCfs(v); ctx.fillRect(c, r, 1, 1); });
});
var gB = svg.append("g").attr("clip-path", "url(#clipB)");
gB.append("image").attr("href", cv.toDataURL()).attr("preserveAspectRatio", "none")
  .attr("x", xb(-2.5)).attr("width", xb(182.5) - xb(-2.5))
  .attr("y", yb(24.25)).attr("height", yb(-0.25) - yb(24.25));

// rough edge for the swarm patches
var rough = defs.append("filter").attr("id", "rough").attr("filterUnits", "userSpaceOnUse")
  .attr("x", 90).attr("y", 504).attr("width", 460).attr("height", 404);
rough.append("feTurbulence").attr("type", "fractalNoise").attr("baseFrequency", 0.16).attr("numOctaves", 2).attr("seed", 4).attr("result", "n");
rough.append("feDisplacementMap").attr("in", "SourceGraphic").attr("in2", "n").attr("scale", 11).attr("xChannelSelector", "R").attr("yChannelSelector", "G");

var mask = defs.append("mask").attr("id", "swarm").attr("maskUnits", "userSpaceOnUse")
  .attr("x", 101).attr("y", 514).attr("width", 439).attr("height", 384);
var poly = function (days, dists) {
  return "M" + days.map(function (d, i) { return xb(d) + "," + yb(dists[i]); }).join("L") + "Z";
};
mask.append("path").attr("d", poly(patchUpperDay, patchUpperDist)).attr("fill", "#fff");
mask.append("path").attr("d", poly(patchLowerDay, patchLowerDist)).attr("fill", "#fff");
columnDay.forEach(function (d, i) {
  mask.append("line").attr("x1", xb(d)).attr("x2", xb(d)).attr("y1", yb(-0.5)).attr("y2", yb(columnTop[i]))
    .attr("stroke", "#fff").attr("stroke-linecap", "round").attr("stroke-width", xb(columnSpread[i]) - xb(0));
});
pairs(swarmGaps).forEach(function (d) {
  mask.append("circle").attr("cx", xb(d[0] * 10)).attr("cy", yb(d[1])).attr("r", 2.7).attr("fill", "#000");
});
pairs(swarmGapsWide).forEach(function (d) {
  mask.append("circle").attr("cx", xb(d[0] * 10)).attr("cy", yb(d[1])).attr("r", 4.5).attr("fill", "#000");
});
gB.append("g").attr("filter", "url(#rough)").append("rect")
  .attr("x", 101).attr("y", 514).attr("width", 439).attr("height", 384)
  .attr("fill", "#c6c6c6").attr("mask", "url(#swarm)");
gB.append("g").selectAll("circle").data(pairs(cavityEvents)).enter().append("circle")
  .attr("cx", function (d) { return xb(d[0] * 10); })
  .attr("cy", function (d) { return yb(d[1]); })
  .attr("r", 2.6).attr("fill", "#c6c6c6");

svg.append("line").attr("x1", xb(52)).attr("x2", xb(52)).attr("y1", yb(0)).attr("y2", yb(1.8)).attr("stroke", "#222").attr("stroke-width", 2);
svg.append("line").attr("x1", 101).attr("x2", 540).attr("y1", 898).attr("y2", 898).attr("stroke", "#999").attr("stroke-width", 1);

distTicks.forEach(function (t) { label(96, yb(t) + 7, t, 18, "end"); });
var xbLabel = d3.scaleLinear().domain([0, 160]).range([105, 487]);
backfillTicks.forEach(function (t) { label(xbLabel(t), 924, t, 18); });
label(231, 924, "C2", 18);
label(321, 954, "Days after start of backfilling", 19);
label(52, 708, "Distance above cavity [m]", 19, "middle", -90);
label(589, 496, "ΔCFS [MPa]", 18);

var cfsBar = d3.scaleLinear().domain([0.3, 0.8]).range([899, 515]);
vBar(559, 584, cfsBar, hotCfs, cfsBarTicks, function (t) { return t.toFixed(1); });
</script>
</body>
</html>
